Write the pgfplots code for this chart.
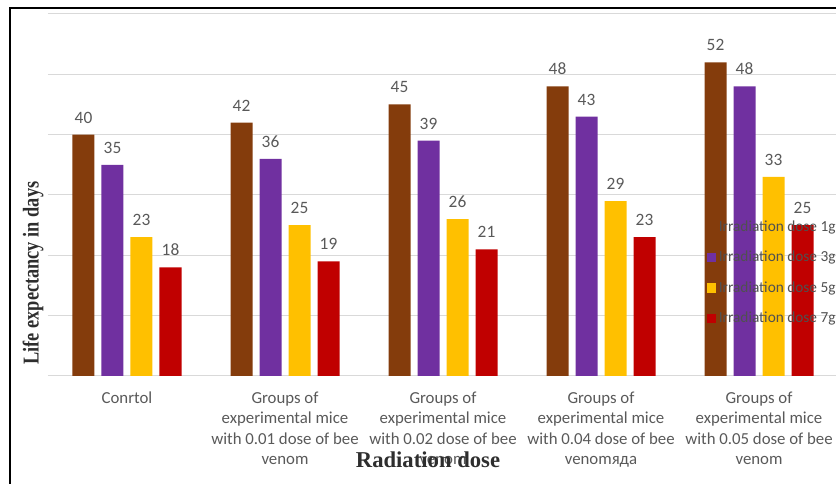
\documentclass[border=0pt]{standalone}
\usepackage{pgfplots}
\pgfplotsset{compat=1.18}
\usepackage{fontspec}
\setmainfont{Carlito}
\newfontfamily\titlefont{Liberation Serif}

\definecolor{brownbar}{HTML}{843C0C}
\definecolor{purplebar}{HTML}{7030A0}
\definecolor{yellowbar}{HTML}{FFC000}
\definecolor{redbar}{HTML}{C00000}
\definecolor{txt}{HTML}{595959}
\definecolor{legtxt}{HTML}{505050}
\definecolor{titletxt}{HTML}{2E2E2E}
\definecolor{gridc}{HTML}{D9D9D9}

\begin{document}
\begin{tikzpicture}
\begin{axis}[
  at={(36pt,81pt)}, anchor=south west,
  width=592.5pt, height=271.5pt, scale only axis,
  xmin=-0.5, xmax=4.5, ymin=0, ymax=60,
  ybar=5.25pt, bar width=16.5pt,
  /pgf/number format/assume math mode=true,
  axis x line*=bottom, axis y line*=left,
  x axis line style={draw=gridc, line width=0.75pt, -},
  y axis line style={draw=none},
  ytick={0,10,...,60}, yticklabels={},
  ytick style={draw=none},
  ymajorgrids, grid style={draw=gridc, line width=0.75pt},
  xtick={0,1,2,3,4},
  xticklabels={
    Conrtol,
    {Groups of\\experimental mice\\with 0.01 dose of bee\\venom},
    {Groups of\\experimental mice\\with 0.02 dose of bee\\venom},
    {Groups of\\experimental mice\\with 0.04 dose of bee\\venomяда},
    {Groups of\\experimental mice\\with 0.05 dose of bee\\venom}},
  xtick style={draw=none},
  xticklabel style={align=center, text=txt,
    font=\fontsize{12.6}{15.4}\selectfont, yshift=-4pt},
  extra x ticks={-0.5,0.5,1.5,2.5,3.5,4.5},
  extra x tick labels={},
  extra x tick style={tick align=outside, major tick length=4.5pt,
    tick style={draw=gridc, line width=0.75pt}, grid=none},
  nodes near coords,
  nodes near coords style={text=txt, font=\fontsize{13}{15}\selectfont, yshift=5pt},
  ylabel={\scalebox{0.81}[1]{Life expectancy in days}},
  ylabel style={at={(axis description cs:-0.019,0.284)}, anchor=center,
    rotate=0, text=titletxt, font=\titlefont\bfseries\fontsize{17}{19}\selectfont},
  xlabel={Radiation dose},
  xlabel style={at={(axis description cs:0.481,-0.232)}, anchor=center,
    text=titletxt, font=\titlefont\bfseries\fontsize{17}{19}\selectfont},
  legend style={draw=none, fill=none, inner sep=0pt,
    at={(axis description cs:0.834,0.438)}, anchor=north west,
    font=\fontsize{11.5}{13}\selectfont, text=legtxt, row sep=9.5pt,
    /tikz/every odd column/.append style={column sep=0pt}},
  legend cell align=left,
  legend image code/.code={\fill[#1] (0pt,-3.4pt) rectangle (6.8pt,3.4pt);},
]
\addplot[fill=brownbar, draw=none] coordinates {(0,40) (1,42) (2,45) (3,48) (4,52)};
\addplot[fill=purplebar, draw=none] coordinates {(0,35) (1,36) (2,39) (3,43) (4,48)};
\addplot[fill=yellowbar, draw=none] coordinates {(0,23) (1,25) (2,26) (3,29) (4,33)};
\addplot[fill=redbar, draw=none] coordinates {(0,18) (1,19) (2,21) (3,23) (4,25)};
\legend{Irradiation dose 1g, Irradiation dose 3g, Irradiation dose 5g, Irradiation dose 7g}
\end{axis}
% chart border
\draw[black, line width=0.9pt] (7.5pt,-20pt) -- (7.5pt,357pt) -- (660pt,357pt);
\pgfresetboundingbox
\useasboundingbox (0,0) rectangle (627pt,363pt);
\end{tikzpicture}
\end{document}
